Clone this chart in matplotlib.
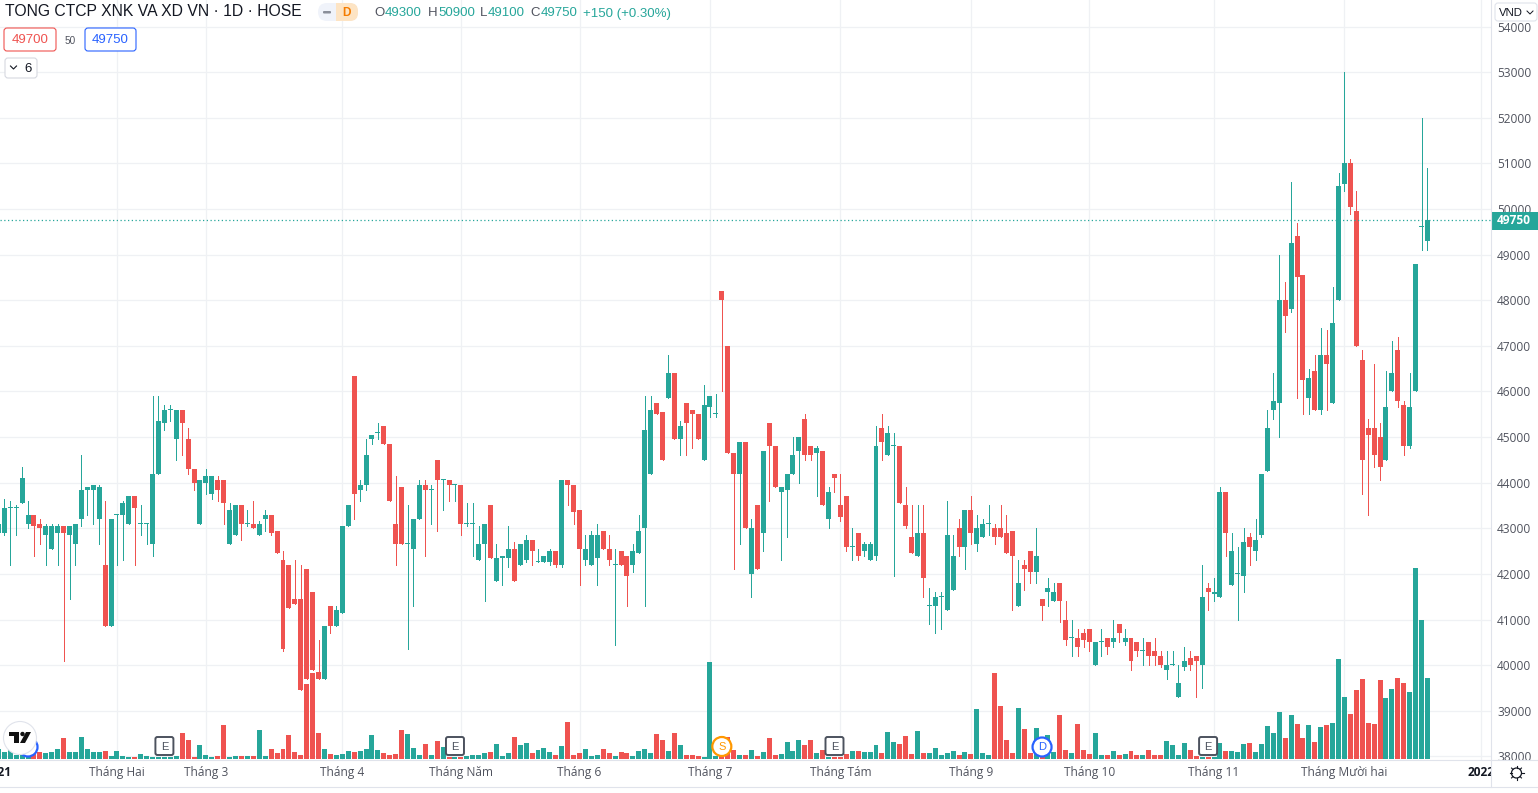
import numpy as np
import matplotlib
matplotlib.use('Agg')
import matplotlib.pyplot as plt
from matplotlib.patches import Circle, FancyBboxPatch, Polygon, Rectangle

# daily prices, first entry is the candle cut by the left edge
opens = [42900,
    42900,43450,43450,43550,43100,43300,43100,42850,42550,42900,
    43050,42850,42650,43200,43850,43850,43200,42200,40850,43300,
    43300,43100,43700,43100,43100,42650,44200,45300,45600,44950,
    45600,44950,44300,43100,44000,43750,44050,44050,42650,42850,
    43500,43100,43100,42850,43200,43300,42950,42300,42200,41450,
    41450,42100,41600,39850,39700,41300,40850,41150,43050,46350,
    43850,43950,44950,45100,45250,44850,43100,43900,42650,42550,
    43200,43950,43850,44500,44050,44050,43950,43950,43100,43100,
    42300,42650,43500,41850,42350,42350,42550,42200,42300,42750,
    42250,42250,42250,42500,42200,44050,43950,43400,42300,42200,
    42350,42950,42550,42200,42500,42400,42200,42450,43000,44200,
    45750,45550,45850,46400,44950,45750,45600,45500,44500,45650,
    45500,48200,47000,44650,44200,44900,42000,43500,42900,45300,
    44800,43800,43850,44200,44700,45400,44800,44650,44700,43200,
    44200,43500,43700,42600,42900,42500,42300,42400,45200,44600,
    44800,44800,43500,42800,42400,42900,41300,41300,41500,41200,
    41650,43000,42600,43400,42650,42800,43100,43000,43000,42900,
    42950,41300,42200,42500,42050,41450,41600,41400,41800,41000,
    40600,40600,40700,40800,40000,40500,40600,40500,40900,40500,
    40600,40500,40300,40500,40300,40200,39900,40000,39300,39950,
    40150,40200,40000,41700,41550,41500,43800,41750,42000,41950,
    42800,42500,42850,44250,45600,45750,48000,47800,49400,48550,
    45850,46450,45600,46800,45750,48000,50550,51000,49950,46700,
    45200,45200,45000,44500,46000,46900,45700,44800,46000,49600,49300]
highs = [43100,
    43650,43600,43500,44350,43600,43300,43200,43100,43100,43100,
    43050,43050,43100,44600,43900,43950,43950,43600,43200,43300,
    43600,43700,43700,43500,43100,45900,45900,45700,45700,45600,
    45600,45200,44300,44050,44300,44150,44150,44050,43550,43500,
    43500,43400,43600,43150,43400,43300,42950,42500,42200,42300,
    42200,42100,41600,40550,40850,41300,41300,43050,43500,46350,
    44050,44950,45050,45300,45250,44850,44150,43900,43500,43200,
    44050,44050,43950,44500,44050,44050,43950,43950,43550,43550,
    43050,43100,43500,42650,42400,43050,42700,42650,42850,42750,
    42550,42400,42550,42500,44050,44050,43950,43400,42850,42950,
    43100,42950,42850,42550,42500,42400,42650,43300,45900,45900,
    45750,45550,46800,46400,45350,45750,45600,45500,46150,45900,
    45950,48200,47000,44650,44900,44900,43200,43500,44700,45300,
    44800,43900,44200,45000,45000,45500,44800,44800,44700,43900,
    44200,44200,43700,43000,42900,42700,42700,45250,45500,45250,
    45100,44800,43900,43500,43500,43500,41700,41600,41600,43600,
    42850,43200,43400,43700,43300,43200,43500,43100,43500,43300,
    42950,42300,42300,42500,43000,41450,41900,41800,41800,41400,
    41000,40800,40800,40800,40500,40800,40600,41000,40900,40800,
    40600,40500,40600,40500,40600,40300,40300,40300,40000,40400,
    40300,40200,42200,41800,41900,43900,43800,42900,42600,43000,
    42900,43200,44200,45600,46400,49000,48400,50600,49700,48550,
    46500,46800,47400,47350,48300,50800,53000,51100,50400,46900,
    45400,46600,45300,46450,47100,47200,45800,46400,48800,52000,50900]
lows = [42900,
    42850,42200,42850,43550,43000,42400,42650,42200,42550,42200,
    40100,41450,42200,43050,43300,43100,42650,40850,40850,42200,
    42300,43100,42200,42850,42650,42400,44200,45150,45350,44500,
    44600,44200,43850,43100,43750,43650,43600,43100,42650,42850,
    42750,43050,43000,42850,42950,42850,42450,40300,41250,41350,
    39450,39700,39900,39700,39700,40700,40850,41150,43050,43200,
    43600,43850,44850,44950,44850,43600,42200,42650,40350,41300,
    43200,42400,43100,42950,43400,43600,43600,42850,43050,42400,
    42300,41400,42350,41850,41750,42150,41850,42200,42250,42200,
    42250,42250,42200,42150,42150,43500,43100,41750,42200,42200,
    41750,42550,42200,40450,42200,41300,42050,42450,41300,44200,
    45500,44500,45850,44950,44600,44600,44750,44950,44500,45450,
    45450,46000,44650,42100,42650,43000,41500,42100,42500,43600,
    43900,42300,42800,44200,44000,44500,44500,43700,43500,43000,
    43800,43150,42500,42300,42300,42400,42300,42300,44500,44600,
    41950,43550,43000,42450,42400,41500,40900,40700,40800,41200,
    41650,42400,42100,42650,42500,42800,42850,42650,42800,42450,
    41200,41300,41650,41800,41800,41000,41300,41400,40950,40450,
    40200,40200,40400,40300,40000,40200,40250,40400,40500,40450,
    39900,40200,40000,40000,40000,39950,39700,40000,39300,39900,
    39900,39300,39500,41200,41400,41500,42400,41750,41000,41600,
    42200,42300,42800,44250,45400,45000,47300,47750,45850,45500,
    45500,45600,45500,45600,45750,48000,50400,49900,47000,43750,
    43300,44350,44050,44500,46000,45650,44600,44750,46000,49100,49100]
closes = [43100,
    43450,43450,43450,44100,43300,43050,43000,43050,43050,43050,
    42900,43050,43100,43850,43900,43950,43900,40850,43200,43300,
    43550,43700,43450,43100,43100,44200,45350,45600,45600,45600,
    45300,44300,44000,44050,44150,44150,43850,43550,43400,43500,
    43100,43100,43000,43100,43300,42900,42450,40350,41250,41350,
    39450,39700,39900,39700,40850,40850,41200,43050,43500,43750,
    43950,44600,45050,45100,44850,43600,42650,42650,42650,43200,
    43950,43850,43850,44050,44050,43950,43950,43100,43100,43100,
    42650,43100,42350,42350,42400,42550,41850,42650,42750,42500,
    42250,42400,42500,42200,44050,43950,43350,42550,42550,42850,
    42850,42550,42300,42200,42200,41950,42500,42950,45150,45600,
    45500,44500,46400,44950,45250,45300,45500,44950,45700,45900,
    45500,48000,44650,44200,44900,43000,43000,42100,44700,44800,
    43900,43900,44200,44600,45000,44600,44600,44750,43500,43800,
    44100,43250,42600,42600,42400,42650,42650,44800,44900,45100,
    44800,43550,43050,42450,42900,41900,41300,41500,41500,42850,
    42400,42600,43400,42900,43000,43100,43100,42800,42800,42450,
    42400,41800,42100,42050,42400,41300,41700,41600,41400,40550,
    40600,40400,40550,40500,40500,40500,40400,40600,40700,40600,
    40100,40300,40300,40200,40200,40000,40000,40000,39600,40100,
    40000,40100,41500,41600,41600,43800,42900,42500,42000,42700,
    42600,42750,44200,45200,45800,48000,47650,49250,48500,46250,
    46300,45600,46800,46600,47500,50500,51000,50050,47000,44500,
    45050,44600,44350,45650,46400,45800,44800,45650,48800,49600,49750]
volumes = [29,
    20,29,11,10,10,20,20,17,20,29,
    62,20,20,65,29,20,20,23,8,23,
    8,5,5,14,8,5,6,6,6,8,
    77,56,5,41,11,5,8,101,5,8,
    8,8,8,86,8,29,17,29,71,20,
    11,224,257,77,29,14,11,14,23,20,
    23,29,71,26,17,11,14,86,74,32,
    11,44,11,53,35,5,5,5,8,11,
    11,17,20,44,8,17,65,41,47,17,
    26,32,20,11,38,110,11,17,29,8,
    11,29,17,8,20,17,8,23,29,17,
    74,56,23,77,41,11,11,8,5,290,
    8,8,64,26,11,11,26,8,20,62,
    11,14,50,23,56,41,56,17,26,5,
    5,5,14,23,23,20,20,41,17,80,
    50,44,68,14,83,17,17,32,11,17,
    23,11,20,14,149,17,11,257,158,56,
    17,152,90,18,93,6,72,21,132,27,
    18,105,27,15,78,12,12,24,12,15,
    24,12,12,27,12,12,54,42,12,48,
    27,9,6,6,6,48,24,24,21,45,
    48,21,45,99,78,141,63,132,105,63,
    102,51,96,102,108,300,186,135,207,240,
    108,105,237,183,210,243,228,201,573,417,243]

month_pos = [20, 35, 58, 78, 98, 120, 142, 164, 184, 205, 227, 250]
month_labels = ['Tháng Hai', 'Tháng 3', 'Tháng 4', 'Tháng Năm', 'Tháng 6', 'Tháng 7',
                'Tháng Tám', 'Tháng 9', 'Tháng 10', 'Tháng 11', 'Tháng Mười hai', '2022']
price_ticks = list(range(38000, 54001, 1000))
earnings_pos = [28, 77, 141, 204]
dividend_pos = [5, 176]
split_pos = [122]
last_price = 49750

GREEN = '#26a69a'
RED = '#ef5350'
GRID = '#eff1f4'
TEXT = '#131722'
AXIS_TEXT = '#50535e'
TICK_FONT = 'Open Sans'
HEAD_FONT = 'Liberation Sans'

o = np.array(opens)
h = np.array(highs)
l = np.array(lows)
c = np.array(closes)
v = np.array(volumes)
x = np.arange(len(o))
up = c >= o
colors = np.where(up, GREEN, RED)

fig = plt.figure(figsize=(15.38, 7.93), dpi=100)
ax = fig.add_axes([0, 33 / 793, 1491 / 1538, 760 / 793])
ax.set_xlim(0.275, 251.71)
ax.set_ylim(37919, 54585)

ax.set_yticks(price_ticks)
ax.set_xticks(month_pos)
ax.set_xticklabels(month_labels, fontsize=8.6, color=AXIS_TEXT, family=TICK_FONT)
ax.get_xticklabels()[-1].set_weight('bold')
ax.get_xticklabels()[-1].set_color(TEXT)
ax.yaxis.tick_right()
ax.tick_params(axis='both', length=0)
ax.tick_params(axis='y', pad=4.3, labelsize=8.6, labelcolor=AXIS_TEXT)
ax.tick_params(axis='x', pad=4.5)
for lab in ax.get_yticklabels():
    lab.set_family(TICK_FONT)
ax.grid(True, color=GRID, linewidth=0.9)
ax.set_axisbelow(True)
for s in ax.spines.values():
    s.set_visible(False)

# volume sits on the floor of the price pane, 1 unit is a third of a pixel
vol_scale = 1000 / 45.6 / 3
vol_floor = 37947
ax.bar(x, v * vol_scale, bottom=vol_floor, width=0.84, color=colors, linewidth=0, zorder=2)

ax.vlines(x, l, h, colors=colors, linewidth=0.72, antialiased=False, zorder=3)
bottoms = np.minimum(o, c)
heights = np.maximum(np.abs(c - o), 22)
ax.bar(x, heights, bottom=bottoms, width=0.84, color=colors, linewidth=0, zorder=3)

ax.axhline(last_price, color=GREEN, linewidth=0.9, linestyle=(0, (1, 2)), zorder=4)

# "2021" is cut by the left edge so it can't be a normal tick
ax.annotate('2021', xy=(0, 0), xycoords=ax.get_xaxis_transform(), xytext=(0, -4.5),
            textcoords='offset points', ha='center', va='top', fontsize=8.6, weight='bold',
            color=TEXT, family=TICK_FONT, annotation_clip=False)

# everything that belongs to the app around the chart, in pixels
ui = fig.add_axes([0, 0, 1, 1], zorder=10)
ui.set_xlim(0, 1538)
ui.set_ylim(793, 0)
ui.axis('off')
ui.patch.set_alpha(0)


def px_of(pos):
    return ax.transData.transform((pos, 40000))[0] * 100 / fig.dpi


def box(x0, y0, w, h_, edge, face='white', lw=0.8, r=3):
    ui.add_patch(FancyBboxPatch((x0, y0), w, h_, boxstyle='round,pad=0,rounding_size=%d' % r,
                                facecolor=face, edgecolor=edge, linewidth=lw))


# right scale and time scale frame
ui.add_patch(Rectangle((1491, 760), 47, 27, facecolor='white', edgecolor='none'))
ui.plot([0, 1538], [760, 760], color='#e0e3eb', lw=0.8)
ui.plot([0, 1538], [787, 787], color='#e0e3eb', lw=0.8)
ui.plot([1491, 1491], [0, 787], color='#e0e3eb', lw=0.8)

ui.add_patch(Rectangle((1491, 212), 47, 18, facecolor=GREEN, edgecolor='none'))
ui.text(1514, 221, '49750', color='white', fontsize=8.6, family=TICK_FONT, weight='bold',
        ha='center', va='center')

box(1495, 3, 42, 18, '#e0e3eb')
ui.text(1499, 12.5, 'VND', color=TEXT, fontsize=8.2, family=HEAD_FONT, va='center')
ui.plot([1527, 1530, 1533], [11, 14, 11], color=TEXT, lw=0.7)

# gear
ui.add_patch(Circle((1516.5, 773), 5, facecolor='white', edgecolor=TEXT, lw=0.9))
for a in np.arange(0, 2 * np.pi, np.pi / 4):
    ui.plot([1516.5 + 5 * np.cos(a), 1516.5 + 7 * np.cos(a)],
            [773 + 5 * np.sin(a), 773 + 7 * np.sin(a)], color=TEXT, lw=0.8)

# header
ui.text(5, 11.5, 'TONG CTCP XNK VA XD VN · 1D · HOSE', color=TEXT, fontsize=11.3,
        family=HEAD_FONT, va='center')
box(318, 3, 40, 18, 'none', face='#f0f3fa', r=9)
ui.add_patch(FancyBboxPatch((336, 3), 22, 18, boxstyle='round,pad=0,rounding_size=8',
                            facecolor='#fde4c4', edgecolor='none'))
ui.add_patch(Rectangle((336, 3), 10, 18, facecolor='#fde4c4', edgecolor='none'))
ui.add_patch(FancyBboxPatch((323, 11), 8, 2.5, boxstyle='round,pad=0,rounding_size=1',
                            facecolor='#8a8e99', edgecolor='none'))
ui.text(346.5, 12.5, 'D', color='#f57c00', fontsize=8.6, family=HEAD_FONT, weight='bold',
        ha='center', va='center')

ohlc_parts = [(374, 'O', AXIS_TEXT), (385, '49300', GREEN), (428, 'H', AXIS_TEXT), (438, '50900', GREEN),
              (480, 'L', AXIS_TEXT), (488, '49100', GREEN), (530, 'C', AXIS_TEXT), (541, '49750', GREEN),
              (583, '+150 (+0.30%)', GREEN)]
for xp, s, col in ohlc_parts:
    ui.text(xp, 13.5, s, color=col, fontsize=9.5, family=HEAD_FONT, va='center')

box(4, 28, 52, 23, RED)
ui.text(30, 40, '49700', color=RED, fontsize=9.5, family=HEAD_FONT, ha='center', va='center')
ui.text(70, 40.5, '50', color=AXIS_TEXT, fontsize=7.2, family=HEAD_FONT, ha='center', va='center')
box(85, 28, 51, 23, '#2962ff')
ui.text(110.5, 40, '49750', color='#2962ff', fontsize=9.5, family=HEAD_FONT, ha='center', va='center')

box(5, 58, 32, 20, '#d6d8e0')
ui.plot([10.5, 13.5, 16.5], [66, 69, 66], color=TEXT, lw=0.8)
ui.text(24, 68.5, '6', color=TEXT, fontsize=9.5, family=HEAD_FONT, va='center')

# event badges on the time line
for pos in earnings_pos:
    xc = px_of(pos)
    box(xc - 9, 737, 18, 18, '#4c525e', lw=1.4, r=2)
    ui.text(xc, 746.5, 'E', color='#4c525e', fontsize=8, family=HEAD_FONT, ha='center', va='center')
for pos in dividend_pos:
    xc = px_of(pos)
    ui.add_patch(Circle((xc, 747), 9.5, facecolor='white', edgecolor='#2962ff', lw=1.6))
    ui.text(xc, 747.5, 'D', color='#2962ff', fontsize=8, family=HEAD_FONT, ha='center', va='center')
for pos in split_pos:
    xc = px_of(pos)
    ui.add_patch(Circle((xc, 746.5), 9.5, facecolor='white', edgecolor='#ff9800', lw=1.6))
    ui.text(xc, 747, 'S', color='#ff9800', fontsize=8, family=HEAD_FONT, ha='center', va='center')

# logo goes over the first badge and its letter
ui.add_patch(Circle((20, 738), 16.5, facecolor='white', edgecolor='#e0e3eb', lw=0.8, zorder=5))
ui.add_patch(Polygon([(9, 732), (19, 732), (19, 743), (14, 743), (14, 736), (9, 736)],
                     facecolor='#111', edgecolor='none', zorder=6))
ui.add_patch(Circle((22.5, 734), 2.2, facecolor='#111', edgecolor='none', zorder=6))
ui.add_patch(Polygon([(26, 732), (31, 732), (25, 743), (20, 743)], facecolor='#111', edgecolor='none', zorder=6))

fig.savefig('out.png', dpi=100, facecolor='white')
